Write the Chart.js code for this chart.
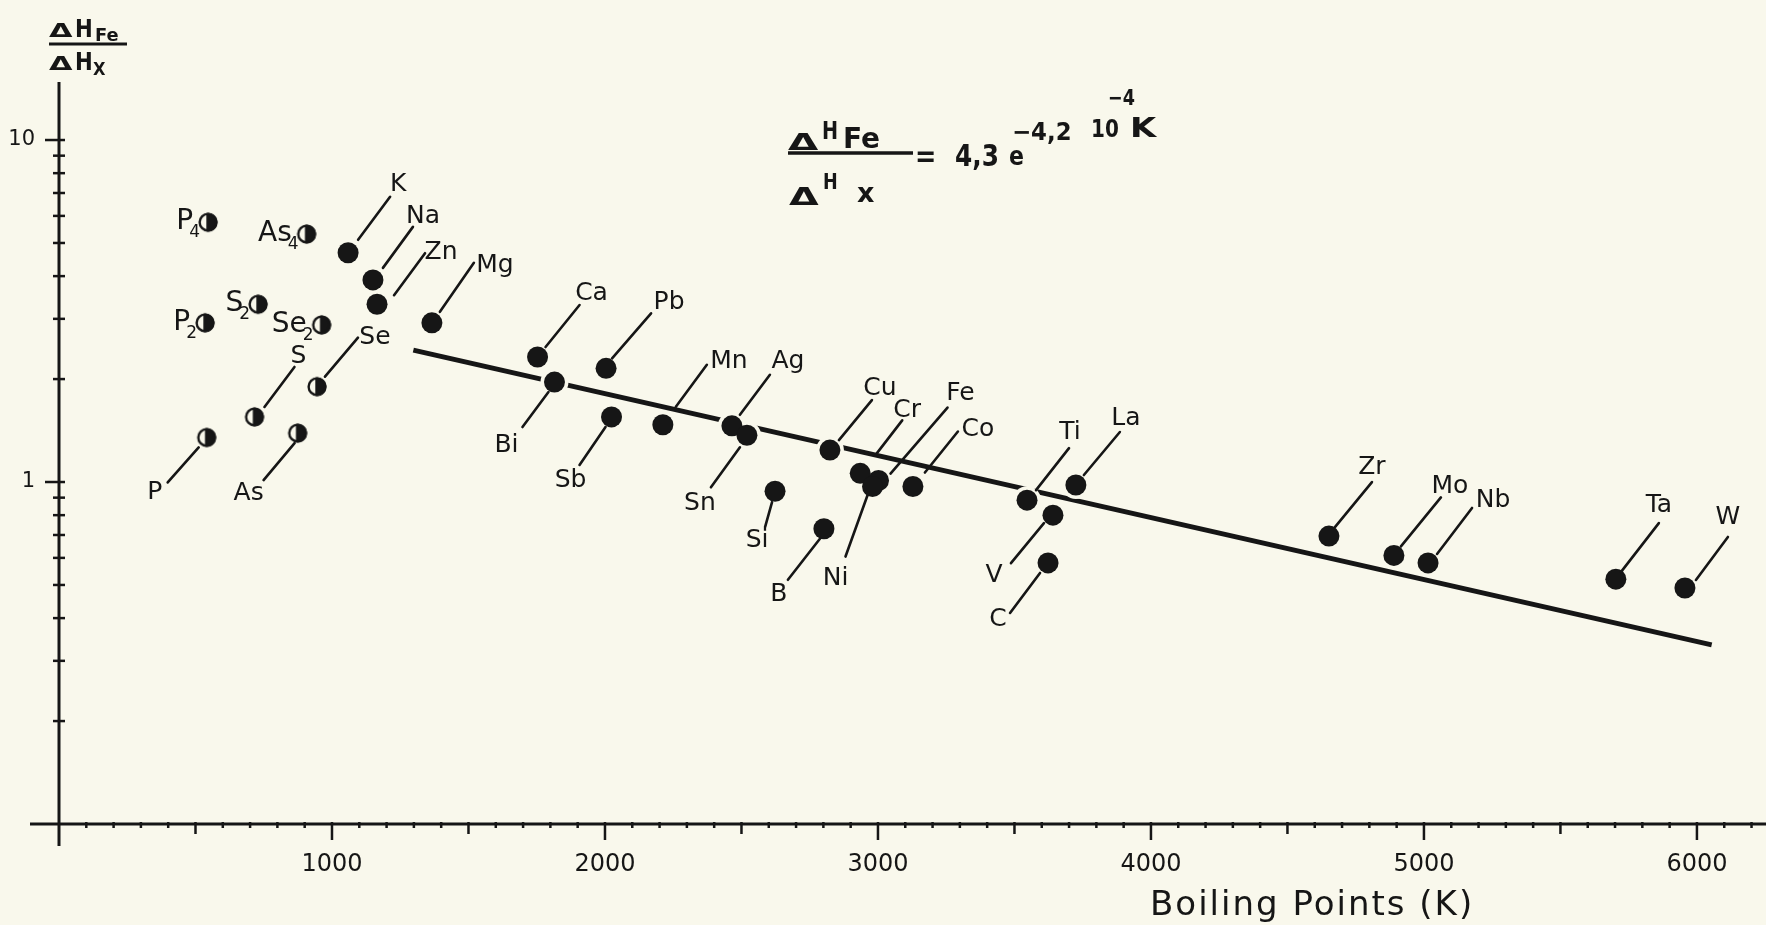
<!DOCTYPE html>
<html>
<head>
<meta charset="utf-8">
<title>ΔH Fe / ΔH X against boiling point</title>
<script src="https://cdn.jsdelivr.net/npm/chart.js@4.4.1/dist/chart.umd.min.js"></script>
<style>
  html, body { margin: 0; padding: 0; background: #f9f8ec; }
  canvas { display: block; }
</style>
</head>
<body>
<canvas id="grafik" width="1766" height="925"></canvas>
<script>
// elements drawn as full dots
const metals = ['K', 'Na', 'Zn', 'Mg', 'Ca', 'Bi', 'Pb', 'Sb', 'Mn', 'Ag', 'Sn', 'Cu', 'Si', 'B',
  'Cr', 'Fe', 'Ni', 'Co', 'Ti', 'V', 'C', 'La', 'Zr', 'Mo', 'Nb', 'Ta', 'W'];
const metalBoiling = [1059, 1150, 1165, 1366, 1753, 1815, 2004, 2024, 2212, 2465, 2520, 2824, 2623, 2802,
  2935, 3002, 2980, 3128, 3546, 3641, 3623, 3725, 4652, 4890, 5015, 5703, 5956];
const metalRatio = [4.68, 3.90, 3.31, 2.92, 2.32, 1.96, 2.15, 1.55, 1.47, 1.46, 1.37, 1.24, 0.94, 0.73,
  1.06, 1.01, 0.97, 0.97, 0.885, 0.80, 0.58, 0.98, 0.695, 0.61, 0.58, 0.52, 0.49];

// species drawn as half dots
const halfSpecies = ['P₄', 'As₄', 'S₂', 'P₂', 'Se₂', 'Se', 'S', 'P', 'As'];
const halfBoiling = [546, 907, 729, 535, 962, 945, 716, 541, 874];
const halfRatio = [5.75, 5.31, 3.31, 2.92, 2.88, 1.90, 1.55, 1.35, 1.39];

// ends of the fitted line
const fitBoiling = [1298, 6054];
const fitRatio = [2.43, 0.334];

const xTickValues = [1000, 2000, 3000, 4000, 5000, 6000];
const yTickValues = [1, 10];

const ink = '#161616';
const paper = '#f9f8ec';
const FONT = '"DejaVu Sans", "Liberation Sans", sans-serif';

// leader line (x1, y1, x2, y2) and label centre, pixels from the dot
const metalLeaders = [
  [10, -13, 42, -56, 50, -68], [10, -12, 40, -53, 50, -63], [17, -9, 48, -51, 64, -52],
  [8, -11, 42, -60, 63, -57], [8, -10, 42, -52, 54, -64], [-6, 10, -32, 45, -48, 63],
  [6, -10, 45, -55, 63, -66], [-6, 10, -32, 48, -41, 64], [13, -18, 44, -60, 66, -63],
  [8, -11, 38, -51, 56, -64], [-7, 12, -36, 52, -47, 68], [9, -10, 42, -50, 50, -62],
  [-3, 11, -10, 36, -18, 49], [-4, 10, -36, 51, -45, 66], [15, -18, 42, -53, 47, -63],
  [12, -7, 69, -73, 82, -87], [-4, 6, -27, 70, -37, 92], [12, -14, 45, -55, 65, -57],
  [9, -10, 42, -52, 43, -68], [-9, 8, -42, 48, -59, 60], [-8, 10, -38, 50, -50, 57],
  [8, -10, 44, -53, 50, -67], [6, -9, 43, -54, 43, -69], [7, -9, 47, -58, 56, -69],
  [9, -9, 44, -55, 65, -62], [5, -7, 43, -56, 43, -74], [11, -8, 43, -51, 43, -70]
];
const halfLeaders = [
  null, null, null, null, null,
  [8, -10, 41, -49, 58, -49], [10, -10, 40, -50, 44, -60],
  [-8, 10, -39, 45, -52, 55], [-3, 10, -34, 47, -49, 60]
];

function halfDot() {
  const c = document.createElement('canvas');
  c.width = 22; c.height = 22;
  const g = c.getContext('2d');
  g.fillStyle = paper;
  g.beginPath(); g.arc(11, 11, 9.5, 0, Math.PI * 2); g.fill();
  g.fillStyle = ink;
  g.beginPath(); g.arc(11, 11, 9.5, -1.75, 1.75); g.closePath(); g.fill();
  g.strokeStyle = ink; g.lineWidth = 2.4;
  g.beginPath(); g.arc(11, 11, 8.4, 0, Math.PI * 2); g.stroke();
  return c;
}

function put(ctx, text, x, y, size, sx, weight) {
  ctx.save();
  ctx.font = (weight || 'normal') + ' ' + size + 'px ' + FONT;
  ctx.textAlign = 'left';
  ctx.textBaseline = 'alphabetic';
  ctx.translate(x, y);
  ctx.scale(sx || 1, 1);
  ctx.fillText(text, 0, 0);
  ctx.restore();
}

function seg(ctx, x1, y1, x2, y2) {
  ctx.beginPath(); ctx.moveTo(x1, y1); ctx.lineTo(x2, y2); ctx.stroke();
}

// formula name with a subscript, set just left of its dot
function sideLabel(ctx, name, px, py) {
  const base = name.replace(/[\u2080-\u2089]/g, '');
  const sub = name.slice(base.length).replace(/[\u2080-\u2089]/g,
    c => String.fromCharCode(c.charCodeAt(0) - 0x2080 + 48));
  ctx.save();
  ctx.textAlign = 'left';
  ctx.textBaseline = 'alphabetic';
  ctx.font = '28px ' + FONT;
  const bw = ctx.measureText(base).width;
  ctx.font = '17px ' + FONT;
  const sw = ctx.measureText(sub).width;
  const bx = px - 8 - sw - bw + 4;
  ctx.font = '28px ' + FONT;
  ctx.fillText(base, bx, py + 7);
  ctx.font = '17px ' + FONT;
  ctx.fillText(sub, bx + bw - 4, py + 15);
  ctx.restore();
}

const notes = {
  id: 'notes',
  beforeDraw(chart) {
    const ctx = chart.ctx;
    ctx.save();
    ctx.fillStyle = paper;
    ctx.fillRect(0, 0, chart.width, chart.height);
    ctx.restore();
  },
  beforeDatasetsDraw(chart) {
    const ctx = chart.ctx, x = chart.scales.x, y = chart.scales.y;
    const x0 = x.left, yb = y.bottom;
    ctx.save();
    ctx.strokeStyle = ink;
    ctx.lineCap = 'butt';
    ctx.lineWidth = 3;
    seg(ctx, 30, yb, chart.width, yb);
    seg(ctx, x0, y.top, x0, yb + 22);
    ctx.lineWidth = 2.5;
    for (let v = 100; v <= x.max; v += 100) {
      const px = x.getPixelForValue(v);
      let down = 4;
      if (v % 1000 === 0) down = 16;
      else if (v % 500 === 0) down = 10;
      seg(ctx, px, yb - 2, px, yb + down);
    }
    [0.1, 1, 10].forEach(d => {
      for (let m = 1; m <= 9; m++) {
        const v = d * m;
        if (v < 0.15 || v > y.max) continue;
        const py = y.getPixelForValue(v);
        seg(ctx, x0 - (m === 1 ? 14 : 6), py, x0 + 6, py);
      }
    });
    ctx.restore();
  },
  afterDatasetsDraw(chart) {
    const ctx = chart.ctx;
    ctx.save();
    ctx.strokeStyle = ink;
    ctx.fillStyle = ink;
    ctx.lineWidth = 2.6;
    ctx.lineCap = 'round';
    ctx.font = '25px ' + FONT;
    ctx.textBaseline = 'middle';
    ctx.textAlign = 'center';

    chart.getDatasetMeta(2).data.forEach((pt, i) => {
      const p = metalLeaders[i];
      seg(ctx, pt.x + p[0], pt.y + p[1], pt.x + p[2], pt.y + p[3]);
      ctx.fillText(metals[i], pt.x + p[4], pt.y + p[5]);
    });
    chart.getDatasetMeta(3).data.forEach((pt, i) => {
      const p = halfLeaders[i];
      if (p) {
        seg(ctx, pt.x + p[0], pt.y + p[1], pt.x + p[2], pt.y + p[3]);
        ctx.fillText(halfSpecies[i], pt.x + p[4], pt.y + p[5]);
      } else {
        sideLabel(ctx, halfSpecies[i], pt.x, pt.y);
      }
    });

    // y axis quantity
    put(ctx, 'Δ', 49, 37, 19, 1.6, 'bold');
    put(ctx, 'H', 75, 37, 25, 0.85, 'bold');
    put(ctx, 'Fe', 95, 41, 17, 1.05, 'bold');
    put(ctx, 'Δ', 49, 70, 19, 1.6, 'bold');
    put(ctx, 'H', 75, 70, 25, 0.85, 'bold');
    put(ctx, 'X', 93, 75, 18, 0.9, 'bold');
    ctx.lineCap = 'butt';
    ctx.lineWidth = 3;
    seg(ctx, 49, 44, 127, 44);

    // fitted relation
    put(ctx, 'Δ', 788, 150, 23, 1.7, 'bold');
    put(ctx, 'H', 822, 139, 24, 0.8, 'bold');
    put(ctx, 'Fe', 843, 148, 28, 1.0, 'bold');
    ctx.lineWidth = 3.5;
    seg(ctx, 788, 153, 913, 153);
    put(ctx, 'Δ', 789, 205, 24, 1.6, 'bold');
    put(ctx, 'H', 823, 189, 22, 0.8, 'bold');
    put(ctx, 'x', 857, 202, 27, 1, 'bold');
    put(ctx, '=', 915, 166, 30, 0.85, 'bold');
    put(ctx, '4,3', 955, 166, 31, 0.8, 'bold');
    put(ctx, 'e', 1009, 165, 26, 0.85, 'bold');
    put(ctx, '−4,2', 1012, 140, 24, 0.95, 'bold');
    put(ctx, '10', 1091, 137, 25, 0.8, 'bold');
    put(ctx, 'K', 1130, 137, 26, 1.3, 'bold');
    put(ctx, '−4', 1108, 105, 22, 0.8, 'bold');

    // x axis title
    ctx.letterSpacing = '2px';
    put(ctx, 'Boiling Points (K)', 1150, 915, 34, 1);
    ctx.letterSpacing = '0px';
    ctx.restore();
  }
};

const toXY = (xs, ys) => xs.map((v, i) => ({ x: v, y: ys[i] }));

new Chart(document.getElementById('grafik').getContext('2d'), {
  type: 'scatter',
  data: {
    datasets: [
      {
        label: 'fit',
        data: toXY(fitBoiling, fitRatio),
        showLine: true,
        borderColor: ink,
        borderWidth: 5,
        pointRadius: 0,
        order: 4
      },
      {
        label: 'halo',
        data: toXY(metalBoiling, metalRatio),
        pointRadius: 14,
        pointBackgroundColor: paper,
        pointBorderWidth: 0,
        order: 3
      },
      {
        label: 'elements',
        data: toXY(metalBoiling, metalRatio),
        pointRadius: 10.5,
        pointBackgroundColor: ink,
        pointBorderWidth: 0,
        order: 2
      },
      {
        label: 'species',
        data: toXY(halfBoiling, halfRatio),
        pointStyle: halfDot(),
        order: 1
      }
    ]
  },
  options: {
    responsive: false,
    animation: false,
    events: [],
    layout: { autoPadding: false, padding: { top: 82, left: 0, right: 0, bottom: 0 } },
    plugins: {
      legend: { display: false },
      tooltip: { enabled: false }
    },
    elements: { point: { hoverRadius: 0 } },
    scales: {
      x: {
        type: 'linear',
        min: 0,
        max: 6253,
        grid: { display: false, drawTicks: false },
        border: { display: false },
        afterFit: function(s) { s.height = 101; },
        afterBuildTicks: function(s) { s.ticks = xTickValues.map(v => ({ value: v })); },
        ticks: {
          autoSkip: false,
          maxRotation: 0,
          padding: 26,
          color: ink,
          font: { family: FONT, size: 24 },
          callback: function(value) { return String(value); }
        }
      },
      y: {
        type: 'logarithmic',
        min: 0.1,
        max: 14.78,
        grid: { display: false, drawTicks: false },
        border: { display: false },
        afterFit: function(s) { s.width = 59; },
        afterBuildTicks: function(s) { s.ticks = yTickValues.map(v => ({ value: v })); },
        ticks: {
          autoSkip: false,
          padding: 24,
          color: ink,
          font: { family: FONT, size: 21 },
          callback: function(value) { return String(value); }
        }
      }
    }
  },
  plugins: [notes]
});
</script>
</body>
</html>
